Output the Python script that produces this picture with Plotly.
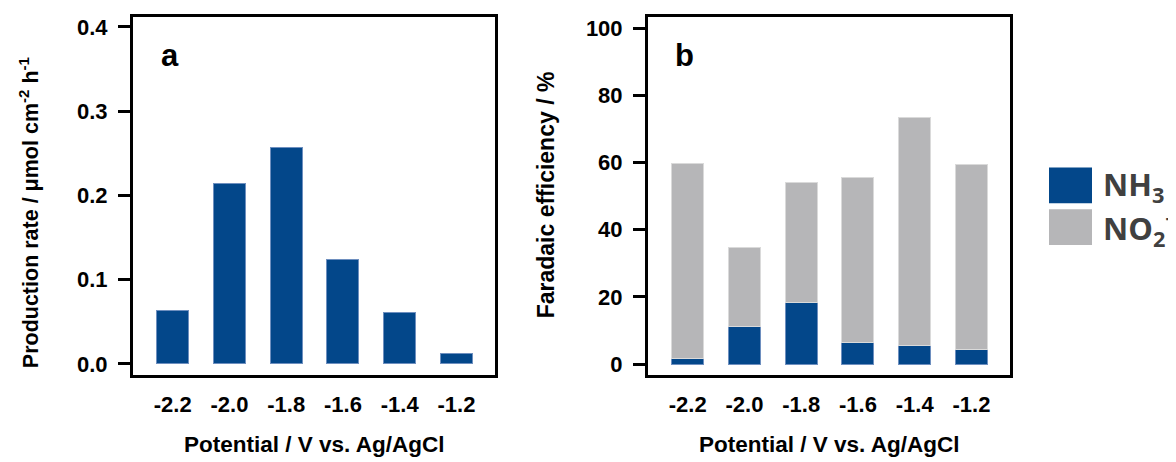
import plotly.graph_objects as go

potentials = ["-2.2", "-2.0", "-1.8", "-1.6", "-1.4", "-1.2"]
production_rate = [0.0635, 0.214, 0.257, 0.124, 0.0615, 0.0118]
fe_nh3 = [1.6, 11.3, 18.2, 6.3, 5.6, 4.4]
fe_no2 = [58.2, 23.3, 35.8, 49.1, 67.8, 55.0]

BLUE = "#03478A"
GREY = "#B6B6B8"
OFF = 8  # page body margin
W, H = 1176 - OFF, 462 - OFF

def px_x(x):
    return (x - OFF) / W

def px_y(y):
    return (H - (y - OFF)) / H

fig = go.Figure()
fig.add_trace(go.Bar(x=potentials, y=production_rate, marker=dict(color=BLUE, line=dict(color="#6E8FBF", width=1)),
                     width=0.565, xaxis="x", yaxis="y", showlegend=False))
fig.add_trace(go.Bar(x=potentials, y=fe_nh3, marker=dict(color=BLUE, line=dict(color="#6E8FBF", width=1)),
                     width=0.565, xaxis="x2", yaxis="y2", showlegend=False, name="NH3"))
fig.add_trace(go.Bar(x=potentials, y=fe_no2, marker=dict(color=GREY, line=dict(color="#DADADA", width=1)),
                     width=0.565, xaxis="x2", yaxis="y2", showlegend=False, name="NO2-"))

tickfont = dict(family="Arial, Liberation Sans", size=22, color="black", weight="bold")
common_x = dict(type="category", range=[-0.7, 5.68], showline=True, linewidth=3, linecolor="black",
                mirror=True, ticks="", showgrid=False, zeroline=False, tickfont=tickfont,
                ticklabelstandoff=8)
common_y = dict(showline=True, linewidth=3, linecolor="black", mirror=True, ticks="outside",
                ticklen=12, tickwidth=3, tickcolor="black", showgrid=False, zeroline=False,
                tickfont=tickfont, ticklabelstandoff=6)

fig.update_layout(
    width=W, height=H, margin=dict(l=0, r=0, t=0, b=0),
    paper_bgcolor="white", plot_bgcolor="white", barmode="stack", bargap=0.4,
    xaxis=dict(common_x, domain=[px_x(133), px_x(495)], anchor="y"),
    yaxis=dict(common_y, domain=[px_y(376), px_y(15)], anchor="x", range=[-0.013, 0.4118],
               tickvals=[0, 0.1, 0.2, 0.3, 0.4], ticktext=["0.0", "0.1", "0.2", "0.3", "0.4"]),
    xaxis2=dict(common_x, domain=[px_x(648), px_x(1010)], anchor="y2"),
    yaxis2=dict(common_y, domain=[px_y(376), px_y(15)], anchor="x2", range=[-3.2, 103.3],
                tickvals=[0, 20, 40, 60, 80, 100]),
)

def f(size):
    return dict(family="Arial, Liberation Sans", size=size, color="black", weight="bold")

anns = [
    dict(text="Production rate / μmol cm<sup>-2</sup> h<sup>-1</sup>", x=px_x(29), y=px_y(213),
         textangle=-90, font=f(21.5)),
    dict(text="Faradaic efficiency / %", x=px_x(546), y=px_y(195), textangle=-90, font=f(23)),
    dict(text="Potential / V vs. Ag/AgCl", x=px_x(314), y=px_y(446), font=f(22.5)),
    dict(text="Potential / V vs. Ag/AgCl", x=px_x(829), y=px_y(446), font=f(22.5)),
    dict(text="a", x=px_x(170), y=px_y(54), font=f(31)),
    dict(text="b", x=px_x(684), y=px_y(54), font=f(31)),
    dict(text="<b>NH<sub>3</sub></b>", x=px_x(1101), y=px_y(186), xanchor="left",
         font=dict(family="Open Sans", size=31, color="#404040")),
    dict(text="<b>NO<sub>2</sub><sup>−</sup></b>", x=px_x(1101), y=px_y(228), xanchor="left",
         font=dict(family="Open Sans", size=31, color="#404040")),
]
for a in anns:
    a.setdefault("xanchor", "center")
    fig.add_annotation(xref="paper", yref="paper", showarrow=False, yanchor="middle", **a)

fig.add_shape(type="rect", xref="paper", yref="paper", x0=px_x(1049), x1=px_x(1092), y0=px_y(203), y1=px_y(167),
              fillcolor=BLUE, line=dict(width=0))
fig.add_shape(type="rect", xref="paper", yref="paper", x0=px_x(1049), x1=px_x(1092), y0=px_y(245), y1=px_y(209),
              fillcolor=GREY, line=dict(width=0))

fig.write_html("out.html")
